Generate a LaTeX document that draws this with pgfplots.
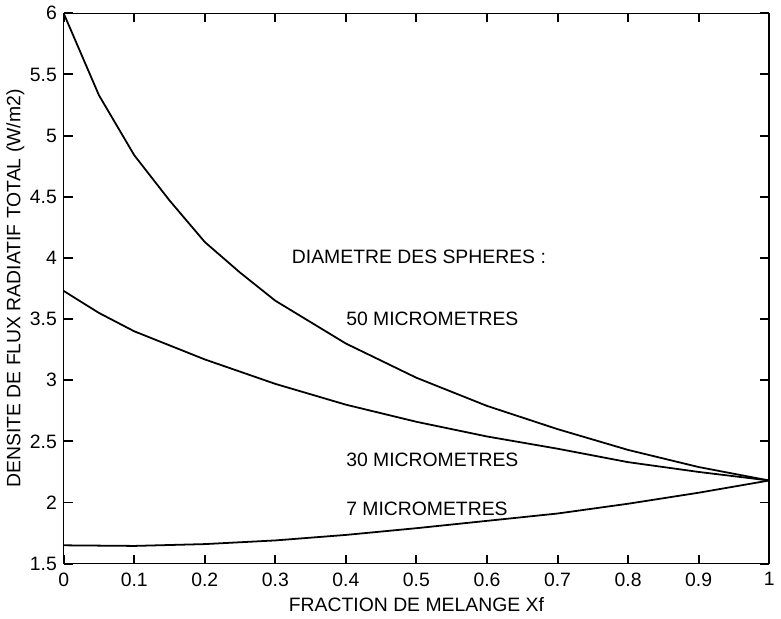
\documentclass[border=0pt]{standalone}
\usepackage{fontspec}
\setmainfont{Liberation Sans}
\usepackage{pgfplots}
\pgfplotsset{compat=1.18}

\begin{document}
\fontsize{9.8}{11}\selectfont
\begin{tikzpicture}
\begin{axis}[
  scale only axis,
  width=357pt, height=278.5pt,
  xmin=0, xmax=1, ymin=1.5, ymax=6,
  xtick={0,0.1,...,1},
  ytick={1.5,2,...,6},
  xticklabels={0,0.1,0.2,0.3,0.4,0.5,0.6,0.7,0.8,0.9,1},
  yticklabels={1.5,2,2.5,3,3.5,4,4.5,5,5.5,6},
  tick align=inside,
  major tick length=4.5pt,
  tick style={black, line width=1pt},
  axis line style={black, line width=0.8pt},
  /pgf/number format/assume math mode=true,
  ticklabel style={font=\fontsize{9.8}{11}\selectfont},
  xticklabel style={yshift=-1pt},
  xlabel={FRACTION DE MELANGE Xf},
  ylabel={DENSITE DE FLUX RADIATIF TOTAL (W/m2)},
  xlabel style={yshift=1pt},
  ylabel style={yshift=-4pt},
]

% 50 micrometres
\addplot[black, line width=0.9pt, no marks] coordinates {
  (0,6.00) (0.05,5.33) (0.1,4.84) (0.15,4.47) (0.2,4.13) (0.25,3.88)
  (0.3,3.65) (0.4,3.30) (0.5,3.02) (0.6,2.79) (0.7,2.60) (0.8,2.43)
  (0.9,2.29) (1.0,2.18)};

% 30 micrometres
\addplot[black, line width=0.9pt, no marks] coordinates {
  (0,3.73) (0.05,3.55) (0.1,3.40) (0.2,3.17) (0.3,2.97) (0.4,2.80)
  (0.5,2.66) (0.6,2.54) (0.7,2.44) (0.8,2.33) (0.9,2.25) (1.0,2.18)};

% 7 micrometres
\addplot[black, line width=0.9pt, no marks] coordinates {
  (0,1.650) (0.1,1.645) (0.2,1.660) (0.3,1.690) (0.4,1.735) (0.5,1.790)
  (0.6,1.850) (0.7,1.910) (0.8,1.990) (0.9,2.080) (1.0,2.180)};

\node[anchor=west, inner sep=0pt] at (axis cs:0.323,4.01) {DIAMETRE DES SPHERES :};
\node[anchor=west, inner sep=0pt] at (axis cs:0.400,3.50) {50 MICROMETRES};
\node[anchor=west, inner sep=0pt] at (axis cs:0.400,2.35) {30 MICROMETRES};
\node[anchor=west, inner sep=0pt] at (axis cs:0.400,1.95) {7 MICROMETRES};

\end{axis}
\end{tikzpicture}
\end{document}
